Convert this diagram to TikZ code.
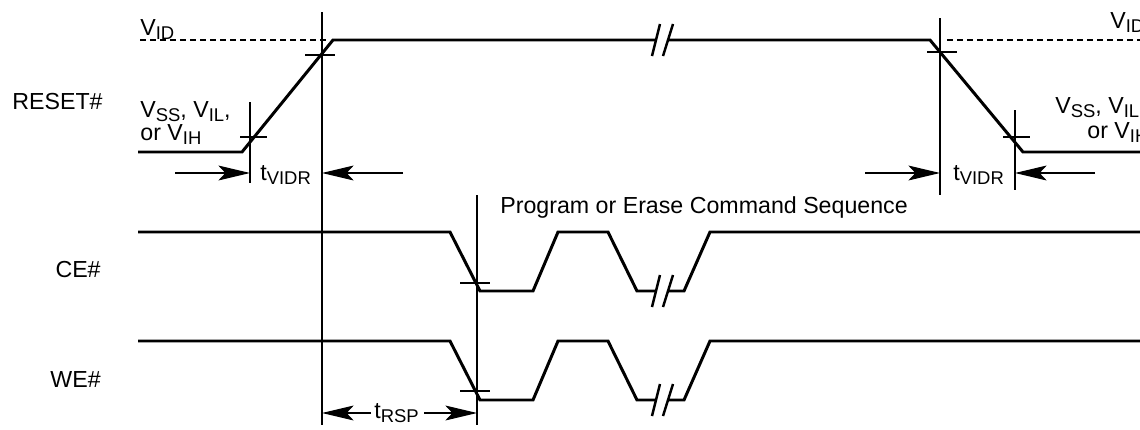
\documentclass[tikz,border=0pt]{standalone}
\usepackage{fontspec}
\setmainfont{Liberation Sans}
\usetikzlibrary{arrows.meta}

\newcommand\lsub[1]{\raisebox{-0.4ex}{\fontsize{10.5}{12}\selectfont #1}}

\tikzset{
  sig/.style={line width=1.7pt, line join=miter},
  guide/.style={line width=0.6pt},
  lbl/.style={font=\fontsize{13.2}{15}\selectfont, inner sep=0pt},
  dim/.style={guide, -{Stealth[length=18pt,width=8.5pt,inset=4pt]}},
}

\begin{document}
\begin{tikzpicture}[x=0.2mm,y=-0.2mm]
		\useasboundingbox (0,0) rectangle (1140,429);
		
		% signal names
		\node[lbl,anchor=east] (reset) at (103,102) {RESET\#};
		\node[lbl,anchor=east] (ce) at (101,270) {CE\#};
		\node[lbl,anchor=east] (we) at (101,380) {WE\#};
		
		% level labels
		\node[lbl,anchor=base west] (vidL) at (140,35) {V\lsub{ID}};
		\node[lbl,anchor=base west] (vidR) at (1110,28) {V\lsub{ID}};
		\node[lbl,anchor=base west] (vssL) at (140,117) {V\lsub{SS}, V\lsub{IL},};
		\node[lbl,anchor=base west] (vihL) at (140,140) {or V\lsub{IH}};
		\node[lbl,anchor=base west] (vssR) at (1055,113) {V\lsub{SS}, V\lsub{IL},};
		\node[lbl,anchor=base west] (vihR) at (1087,138) {or V\lsub{IH}};
		\node[lbl,anchor=base west] (seq) at (500,213) {Program or Erase Command Sequence};
		
		% timing labels
		\node[lbl,anchor=base west] (vidrL) at (260,180) {t\lsub{VIDR}};
		\node[lbl,anchor=base west] (vidrR) at (953,180) {t\lsub{VIDR}};
		\node[lbl,anchor=base west] (rsp) at (374,418) {t\lsub{RSP}};
		
		% reference lines
		\coordinate (tA) at (322,12);   \coordinate (tAb) at (322,425);
		\coordinate (tB) at (250,102);  \coordinate (tBb) at (250,183);
		\coordinate (tC) at (940,18);   \coordinate (tCb) at (940,195);
		\coordinate (tD) at (1015,110); \coordinate (tDb) at (1015,190);
		\coordinate (tE) at (477,195);  \coordinate (tEb) at (477,425);
		\draw[guide] (tA) -- (tAb);
		\draw[guide] (tB) -- (tBb);
		\draw[guide] (tC) -- (tCb);
		\draw[guide] (tD) -- (tDb);
		\draw[guide] (tE) -- (tEb);
		
		% crossing marks
		\draw[guide] (305,55) -- (335,55);
		\draw[guide] (240,137) -- (267,137);
		\draw[guide] (927,52) -- (957,52);
		\draw[guide] (1003,137) -- (1030,137);
		\draw[guide] (460,283) -- (490,283);
		\draw[guide] (460,391) -- (490,391);
		
		% V_ID level
		\draw[guide,dash pattern=on 3.4pt off 2.3pt] (140,40) -- (330,40);
		\draw[guide,dash pattern=on 3.4pt off 2.3pt] (947,40) -- (1140,40);
		
		% waveforms
		\draw[sig] (138,152) -- (242,152) -- (333,40) -- (655,40)
		  (668,40) -- (930,40) -- (1023,152) -- (1140,152);
		\foreach \hi/\lo in {232/291, 341/400}{
		  \draw[sig] (138,\hi) -- (450,\hi) -- (480,\lo) -- (533,\lo) -- (558,\hi)
		    -- (608,\hi) -- (637,\lo) -- (655,\lo)
		    (668,\lo) -- (684,\lo) -- (710,\hi) -- (1140,\hi);
		}
		
		% breaks
		\foreach \y in {40, 291, 400}{
		  \draw[line width=1.4pt] (652,\y+16) -- (660,\y-16);
		  \draw[line width=1.4pt] (663,\y+16) -- (673,\y-16);
		}
		
		% timing arrows
		\coordinate (aL) at (175,173);
		\coordinate (aR) at (403,173);
		\coordinate (bL) at (865,173);
		\coordinate (bR) at (1095,173);
		\coordinate (rL) at (371,413);
		\coordinate (rR) at (424,413);
		\draw[dim] (aL) -- (aL -| tB);
		\draw[dim] (aR) -- (aR -| tA);
		\draw[dim] (bL) -- (bL -| tC);
		\draw[dim] (bR) -- (bR -| tD);
		\draw[dim] (rL) -- (rL -| tA);
		\draw[dim] (rR) -- (rR -| tE);
		
		\end{tikzpicture}
\end{document}
